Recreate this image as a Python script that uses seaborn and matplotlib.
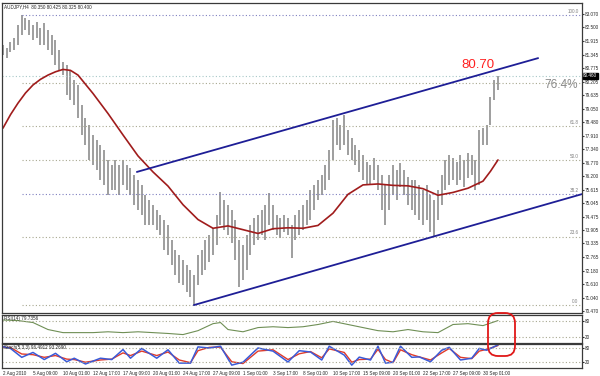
import numpy as np
import pandas as pd
import matplotlib
matplotlib.use('Agg')
import matplotlib.pyplot as plt
import matplotlib.transforms as mtransforms
from matplotlib.patches import FancyBboxPatch
import seaborn as sns

# ---- data ----
title_text = "AUDJPY,H4  80.350 80.425 80.325 80.400"
rsi_label = "RSI(14) 79.7356"
stoch_label = "Stoch(5,3,3) 96.4912 93.2690"

# H4 bars (every second bar of the original), high / low
bar_high = [81.76, 81.63, 81.88, 82.05, 82.60, 83.03, 82.90, 82.82, 82.60, 82.73,
            82.48, 82.69, 82.39, 82.18, 81.97, 81.54, 81.03, 80.91, 80.70, 80.27,
            80.06, 79.21, 78.66, 78.36, 77.94, 77.73, 77.51, 77.30, 76.88, 76.66,
            76.88, 76.66, 76.88, 76.66, 76.54, 76.24, 76.03, 75.82, 75.39, 75.18,
            74.97, 74.76, 74.54, 74.33, 74.12, 73.48, 73.06, 72.85, 72.63, 72.42,
            72.21, 72.00, 72.85, 73.06, 73.48, 73.69, 73.99, 74.54, 75.52, 75.18,
            74.97, 74.76, 74.33, 73.48, 73.27, 73.69, 74.12, 74.42, 74.54, 74.76,
            74.97, 75.48, 74.97, 74.54, 74.42, 74.54, 74.42, 74.12, 74.54, 74.76,
            74.97, 75.18, 75.60, 75.82, 76.03, 76.24, 76.66, 77.30, 78.57, 78.66,
            78.36, 78.79, 78.15, 77.81, 77.51, 77.30, 77.09, 76.79, 76.66, 76.96,
            76.66, 76.24, 75.82, 76.24, 76.66, 76.45, 76.75, 76.45, 76.16, 76.03,
            76.03, 75.82, 75.60, 75.82, 75.39, 75.18, 75.60, 76.24, 76.88, 77.09,
            76.96, 76.79, 77.09, 76.88, 77.17, 77.09, 76.88, 78.15, 78.23, 78.36,
            79.55, 80.27, 80.44]
bar_low = [81.33, 81.20, 81.46, 81.54, 81.76, 82.18, 82.39, 82.18, 81.97, 82.05,
           81.76, 81.76, 81.54, 81.33, 80.91, 80.70, 80.48, 79.63, 79.42, 79.21,
           78.66, 77.94, 77.51, 76.88, 76.66, 76.45, 76.03, 75.82, 75.39, 75.60,
           75.60, 75.39, 75.82, 75.60, 75.39, 74.97, 74.76, 74.54, 74.12, 74.12,
           74.12, 73.91, 73.69, 73.06, 72.85, 72.42, 72.00, 71.66, 71.57, 71.28,
           71.06, 70.72, 71.57, 72.00, 72.21, 72.55, 72.85, 73.27, 74.12, 73.91,
           73.69, 73.36, 72.63, 71.49, 71.79, 72.21, 72.85, 73.27, 73.48, 73.69,
           73.48, 74.12, 73.91, 73.69, 73.57, 73.82, 73.69, 72.72, 73.48, 73.69,
           73.91, 74.12, 74.33, 74.76, 75.18, 75.39, 75.60, 76.03, 76.88, 77.51,
           77.30, 77.51, 77.09, 76.88, 76.66, 76.37, 76.03, 75.82, 75.82, 76.03,
           75.60, 74.76, 74.12, 74.76, 75.39, 75.18, 75.73, 75.39, 74.97, 74.76,
           74.54, 74.33, 74.12, 74.33, 73.82, 73.61, 74.33, 74.97, 75.60, 75.82,
           76.03, 75.82, 76.03, 75.73, 76.11, 76.24, 75.60, 75.82, 77.51, 77.51,
           78.36, 79.42, 79.85]

# moving average (red line)
ma_idx = [0, 2, 4, 6, 8, 10, 12, 14, 16, 18, 20, 24, 28, 32, 36, 40, 44, 48, 52,
          56, 60, 64, 68, 72, 76, 80, 84, 88, 92, 96, 100, 104, 108, 112, 116,
          120, 124, 128, 130, 132]
ma_vals = [78.23, 78.80, 79.29, 79.72, 80.06, 80.30, 80.48, 80.62, 80.72, 80.68,
           80.48, 79.70, 78.85, 77.94, 77.05, 76.37, 75.77, 74.98, 74.35, 73.98,
           74.08, 73.92, 73.76, 73.96, 74.00, 73.98, 74.10, 74.62, 75.42, 75.82,
           75.86, 75.80, 75.78, 75.66, 75.38, 75.50, 75.68, 75.98, 76.40, 76.88]

# channel lines (bar index, price)
upper_x = [35.7, 142.7]
upper_y = [76.37, 81.20]
lower_x = [50.9, 154.4]
lower_y = [70.72, 75.43]

# fibonacci levels
fib_names = ["0.0", "23.6", "38.2", "50.0", "61.8", "76.4", "100.0"]
fib_prices = [70.72, 73.63, 75.42, 76.88, 78.33, 80.13, 83.03]
fib_start = 5
bid_price = 80.46

price_ticks = [83.070, 82.500, 81.915, 81.345, 80.775, 80.205, 79.635, 79.050,
               78.480, 77.910, 77.340, 76.770, 76.200, 75.615, 75.045, 74.475,
               73.905, 73.335, 72.765, 72.180, 71.610, 71.040, 70.470]

# RSI
rsi_idx = [0, 4, 8, 12, 16, 20, 24, 28, 32, 36, 40, 44, 48, 52, 56, 58, 60, 64,
           68, 72, 76, 80, 84, 88, 92, 96, 100, 104, 108, 112, 116, 120, 124, 128, 132]
rsi_vals = [82, 80, 73, 48, 37, 37, 37, 40, 37, 40, 37, 34, 30, 44, 69, 73, 48, 40,
            55, 58, 55, 58, 66, 77, 66, 55, 44, 40, 48, 40, 37, 66, 69, 62, 80]

# stochastic turning points
stoch_idx = [0, 2, 5, 8, 11, 14, 17, 19, 22, 26, 29, 32, 34, 37, 41, 44, 47, 50,
             52, 55, 58, 61, 64, 68, 72, 76, 79, 82, 85, 87, 91, 93, 95, 98, 100,
             102, 104, 106, 109, 111, 114, 117, 119, 122, 125, 127, 129, 132]
stoch_main = [88, 80, 40, 62, 30, 58, 20, 36, 10, 36, 30, 75, 36, 80, 36, 74, 14, 14,
              87, 82, 90, 5, 18, 82, 68, 19, 70, 64, 28, 90, 50, 5, 41, 28, 90,
              14, 18, 90, 40, 42, 20, 72, 85, 28, 36, 80, 72, 96]
stoch_signal = [85, 84, 55, 52, 40, 48, 32, 30, 18, 28, 32, 60, 48, 68, 48, 64, 28, 16,
                70, 85, 86, 20, 12, 68, 74, 30, 56, 66, 38, 78, 62, 18, 30, 32, 76,
                30, 16, 74, 52, 42, 28, 60, 80, 40, 34, 68, 76, 93]

x_labels = ["2 Aug 2010", "5 Aug 09:00", "10 Aug 01:00", "12 Aug 17:00", "17 Aug 09:00",
            "20 Aug 01:00", "24 Aug 17:00", "27 Aug 09:00", "1 Sep 01:00", "3 Sep 17:00",
            "8 Sep 01:00", "10 Sep 17:00", "15 Sep 09:00", "20 Sep 01:00", "22 Sep 17:00",
            "27 Sep 09:00", "30 Sep 01:00"]

# ---- style ----
sns.set_style('white')
plt.rcParams['font.family'] = ['Liberation Sans', 'DejaVu Sans']
small = 3.3
edge = '#3a3a3a'

fig = plt.figure(figsize=(6, 3.76), dpi=100)
ax = fig.add_axes([0.0033, 0.1676, 0.9667, 0.8245])
ax_rsi = fig.add_axes([0.0033, 0.0878, 0.9667, 0.0745], sharex=ax)
ax_st = fig.add_axes([0.0033, 0.0213, 0.9667, 0.0638], sharex=ax)

# ---- main price panel ----
idx = np.arange(len(bar_high))
ax.vlines(idx, bar_low, bar_high, color='#8e8e8e', lw=1.2)

for name, p in zip(fib_names, fib_prices):
    col = '#8080c0' if name in ("100.0", "38.2") else '#a8a890'
    ax.hlines(p, fib_start, 154, color=col, lw=0.8, linestyles=(0, (1, 2)))
    if name != "76.4":
        ax.text(153.5, p + 0.05, name, fontsize=small, color='#808080', ha='right', va='bottom')
ax.axhline(bid_price, color='#a8c8c8', lw=0.8, ls=(0, (1, 2)))

ma_df = pd.DataFrame({'bar': ma_idx, 'price': ma_vals})
sns.lineplot(data=ma_df, x='bar', y='price', ax=ax, color='#a01c1c', lw=1.2)
sns.lineplot(x=upper_x, y=upper_y, ax=ax, color='#1e1e96', lw=1.3)
sns.lineplot(x=lower_x, y=lower_y, ax=ax, color='#1e1e96', lw=1.3)

ax.text(126.7, 80.89, "80.70", color='#ff2020', fontsize=9.5, ha='center', va='center')
ax.text(153.3, 80.05, "76.4%", color='#8a8a8a', fontsize=8.5, ha='right', va='center')
ax.text(0.004, 0.997, title_text, transform=ax.transAxes, fontsize=small, va='top', ha='left')

ax.set_xlim(-0.27, 154.4)
ax.set_ylim(70.385, 83.54)
ax.yaxis.tick_right()
ax.set_yticks(price_ticks)
ax.set_yticklabels([f"{v:.3f}" for v in price_ticks])
ax.tick_params(axis='y', labelsize=small, length=1.5, pad=0.8, color=edge)
ax.tick_params(axis='x', labelbottom=False, length=0)
ax.set_xlabel('')
ax.set_ylabel('')

trans = mtransforms.blended_transform_factory(ax.transAxes, ax.transData)
ax.text(1.002, bid_price, f"{bid_price:.3f}", transform=trans, fontsize=small,
        color='white', va='center', ha='left',
        bbox=dict(boxstyle='square,pad=0.1', fc='black', ec='black'))

# ---- RSI panel ----
sns.lineplot(x=rsi_idx, y=rsi_vals, ax=ax_rsi, color='#6f8f55', lw=0.8)
for lv in (80, 20):
    ax_rsi.axhline(lv, color='#a8a890', lw=0.8, ls=(0, (1, 2)))
ax_rsi.set_ylim(0, 100)
ax_rsi.yaxis.tick_right()
ax_rsi.set_yticks([80, 20])
ax_rsi.tick_params(axis='y', labelsize=small, length=1.5, pad=0.8)
ax_rsi.tick_params(axis='x', labelbottom=False, length=0)
ax_rsi.text(0.004, 0.95, rsi_label, transform=ax_rsi.transAxes, fontsize=small, va='top')
ax_rsi.set_ylabel('')

# ---- Stochastic panel ----
sns.lineplot(x=stoch_idx, y=stoch_signal, ax=ax_st, color='#e03a2a', lw=1.0)
sns.lineplot(x=stoch_idx, y=stoch_main, ax=ax_st, color='#3a5ad8', lw=1.1)
for lv in (80, 20):
    ax_st.axhline(lv, color='#a8a890', lw=0.8, ls=(0, (1, 2)))
ax_st.set_ylim(-8, 100)
ax_st.yaxis.tick_right()
ax_st.set_yticks([80, 20])
ax_st.tick_params(axis='y', labelsize=small, length=1.5, pad=0.8)
ax_st.set_xticks(list(range(0, 129, 8)))
ax_st.set_xticklabels(x_labels, ha='left')
ax_st.tick_params(axis='x', labelsize=small, length=1.5, pad=0.5)
ax_st.text(0.004, 0.95, stoch_label, transform=ax_st.transAxes, fontsize=small, va='top')
ax_st.set_ylabel('')

for a in (ax, ax_rsi, ax_st):
    for s in a.spines.values():
        s.set_color(edge)
        s.set_linewidth(0.9)

# red highlight around the latest indicator values
box = FancyBboxPatch((4.88, 0.20), 0.27, 0.43, boxstyle='round,pad=0,rounding_size=0.1',
                     transform=fig.dpi_scale_trans, fill=False, ec='#e01818', lw=1.3)
fig.patches.append(box)

fig.savefig('out.png', dpi=100, facecolor='white')
